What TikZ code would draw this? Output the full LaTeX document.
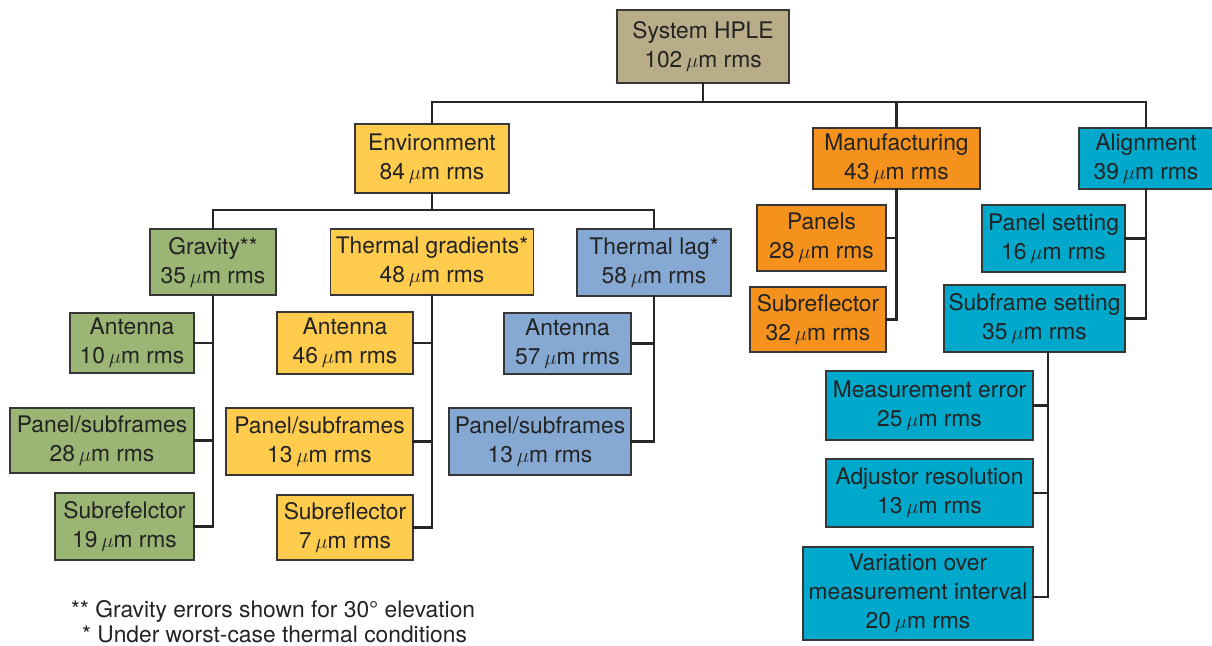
\documentclass[tikz,border=0pt]{standalone}
\usepackage{fontspec}
\setmainfont{TeX Gyre Heros}
\definecolor{systan}{RGB}{184,173,136}
\definecolor{envyel}{RGB}{255,204,78}
\definecolor{gravgrn}{RGB}{155,181,116}
\definecolor{lagblu}{RGB}{134,169,211}
\definecolor{manorg}{RGB}{245,146,30}
\definecolor{alicyn}{RGB}{0,169,203}
\definecolor{txt}{RGB}{35,35,35}
\definecolor{edge}{RGB}{55,55,55}
\begin{document}
\begin{tikzpicture}[x=1pt,y=-1pt,
  box/.style={draw=edge,line width=1.1pt,align=center,inner sep=0pt,
    text=txt,font=\fontsize{22.8}{29}\selectfont},
  bw/.style 2 args={minimum width=#1pt,minimum height=#2pt},
  conn/.style={draw=black!85,line width=2.6pt,line cap=rect},
  note/.style={anchor=base west,inner sep=0pt,text=txt,font=\fontsize{22.8}{28}\selectfont}]
\useasboundingbox (0,0) rectangle (1212,645);
\newcommand{\um}{\,$\mu$m rms}
% level 0/1
\node[box,fill=systan,bw={172}{73}] (sys) at (703,46.5) {System HPLE\\102\um};
\node[box,fill=envyel,bw={154}{69}] (env) at (432,158.5) {Environment\\84\um};
\node[box,fill=manorg,bw={167}{61}] (man) at (896.5,158.5) {Manufacturing\\43\um};
\node[box,fill=alicyn,bw={134}{61}] (ali) at (1146,158.5) {Alignment\\39\um};
% level 2
\node[box,fill=gravgrn,bw={126}{66}] (grav) at (213,262) {Gravity**\\35\um};
\node[box,fill=envyel,bw={203}{66}] (tg) at (432,262) {Thermal gradients*\\48\um};
\node[box,fill=lagblu,bw={154}{67}] (tl) at (654,262.5) {Thermal lag*\\58\um};
% gravity children
\node[box,fill=gravgrn,bw={124}{60}] (g1) at (132,343) {Antenna\\10\um};
\node[box,fill=gravgrn,bw={184}{65}] (g2) at (102,440.5) {Panel/subframes\\28\um};
\node[box,fill=gravgrn,bw={139}{67}] (g3) at (124.5,526.5) {Subrefelctor\\19\um};
% thermal gradient children
\node[box,fill=envyel,bw={136}{62}] (t1) at (345,343) {Antenna\\46\um};
\node[box,fill=envyel,bw={187}{67}] (t2) at (319.5,441.5) {Panel/subframes\\13\um};
\node[box,fill=envyel,bw={136}{65}] (t3) at (345,527.5) {Subreflector\\7\um};
% thermal lag children
\node[box,fill=lagblu,bw={127}{61}] (l1) at (567.5,343.5) {Antenna\\57\um};
\node[box,fill=lagblu,bw={182}{67}] (l2) at (540,441.5) {Panel/subframes\\13\um};
% manufacturing children
\node[box,fill=manorg,bw={129}{66}] (m1) at (821.5,238) {Panels\\28\um};
\node[box,fill=manorg,bw={136}{65}] (m2) at (818,319.5) {Subreflector\\32\um};
% alignment children
\node[box,fill=alicyn,bw={143}{67}] (a1) at (1053.5,238.5) {Panel setting\\16\um};
\node[box,fill=alicyn,bw={181}{67}] (a2) at (1034.5,318.5) {Subframe setting\\35\um};
% subframe children
\node[box,fill=alicyn,bw={207}{69}] (s1) at (929.5,405.5) {Measurement error\\25\um};
\node[box,fill=alicyn,bw={207}{68}] (s2) at (929.5,493) {Adjustor resolution\\13\um};
\node[box,fill=alicyn,bw={230}{93}] (s3) at (918,593.5) {Variation over\\measurement interval\\20\um};
% bus coordinates
\coordinate (bus1) at (0,102);
\coordinate (bus2) at (0,210);
\coordinate (sv) at (1048,0);
% connectors level 1
\draw[conn] (sys.south) -- (sys.south |- bus1);
\draw[conn] (env.north) -- (env.north |- bus1) -- (ali.north |- bus1) -- (ali.north);
\draw[conn] (man.north) -- (man.north |- bus1);
% level 2
\draw[conn] (env.south) -- (env.south |- bus2);
\draw[conn] (grav.north) -- (grav.north |- bus2) -- (tl.north |- bus2) -- (tl.north);
% gravity
\draw[conn] (grav.south) |- (g3.east);
\draw[conn] (g1.east) -- (g1.east -| grav.south);
\draw[conn] (g2.east) -- (g2.east -| grav.south);
% thermal gradients
\draw[conn] (tg.south) |- (t3.east);
\draw[conn] (t1.east) -- (t1.east -| tg.south);
\draw[conn] (t2.east) -- (t2.east -| tg.south);
% thermal lag
\draw[conn] (tl.south) |- (l2.east);
\draw[conn] (l1.east) -- (l1.east -| tl.south);
% manufacturing
\draw[conn] (man.south) |- (m2.east);
\draw[conn] (m1.east) -- (m1.east -| man.south);
% alignment
\draw[conn] (ali.south) |- (a2.east);
\draw[conn] (a1.east) -- (a1.east -| ali.south);
% subframe setting
\draw[conn] (a2.south -| sv) |- ([yshift=-3.5pt]s3.east);
\draw[conn] (s1.east) -- (s1.east -| sv);
\draw[conn] (s2.east) -- (s2.east -| sv);
% footnotes
\node[note] (fn1) at (71,617) {** Gravity errors shown for 30° elevation};
\node[note] (fn2) at (82,642) {* Under worst-case thermal conditions};
\end{tikzpicture}
\end{document}
